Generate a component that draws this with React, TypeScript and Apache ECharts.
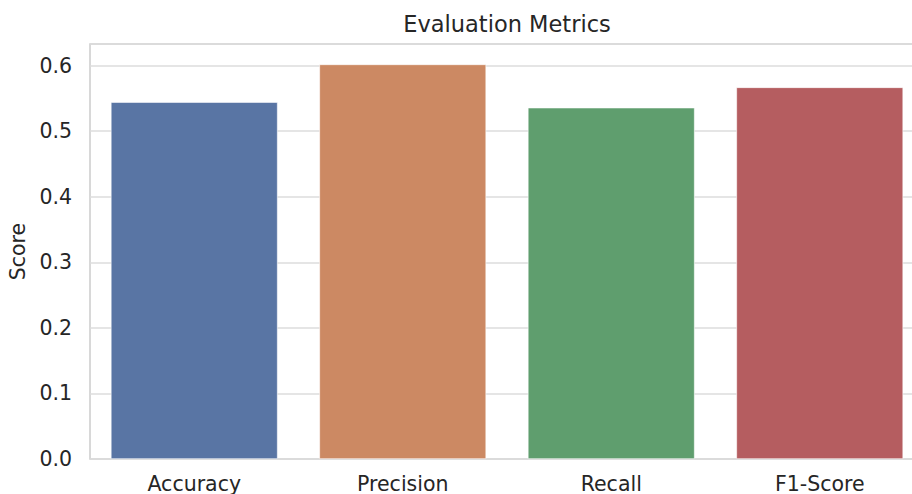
import React, { useEffect, useRef } from "react";
import * as echarts from "echarts";

const categories = ["Accuracy", "Precision", "Recall", "F1-Score"];
const scores = [0.5445, 0.602, 0.536, 0.567];
const barColors = ["#5975a4", "#cc8963", "#5f9e6e", "#b55d60"];
const yTicks = [0, 0.1, 0.2, 0.3, 0.4, 0.5, 0.6];

const FONT = "DejaVu Sans";
const TEXT = "#262626";

export default function App() {
  const ref = useRef<HTMLDivElement>(null);
  useEffect(() => {
    const chart = echarts.init(ref.current!, undefined, { renderer: "svg" });
    chart.setOption({
      animation: false,
      backgroundColor: "#ffffff",
      title: {
        text: "Evaluation Metrics",
        left: 502,
        textAlign: "center",
        top: 7,
        textStyle: { fontFamily: FONT, fontSize: 22.5, fontWeight: "normal", color: TEXT },
      },
      grid: {
        left: 90,
        right: 0,
        top: 44,
        bottom: 35,
        show: true,
        borderColor: "#cccccc",
        borderWidth: 1.5,
        backgroundColor: "transparent",
        outerBoundsMode: "none",
        containLabel: false,
      },
      xAxis: {
        type: "category",
        data: categories,
        axisLine: { show: false },
        axisTick: { show: false },
        axisLabel: { fontFamily: FONT, fontSize: 20.5, color: TEXT, margin: 14 },
        splitLine: { show: false },
      },
      yAxis: {
        type: "value",
        min: yTicks[0],
        max: 0.6331,
        interval: 0.1,
        name: "Score",
        nameLocation: "middle",
        nameGap: 59,
        nameTextStyle: { fontFamily: FONT, fontSize: 20.5, color: TEXT },
        axisLine: { show: false },
        axisTick: { show: false },
        axisLabel: {
          fontFamily: FONT,
          fontSize: 20.5,
          color: TEXT,
          margin: 18,
          showMaxLabel: false,
          formatter: (v: number) => v.toFixed(1),
        },
        splitLine: { show: true, lineStyle: { color: "#dcdcdc", width: 1.5 } },
      },
      series: [
        {
          type: "bar",
          barCategoryGap: "20%",
          data: scores.map((v, i) => ({
            value: v,
            itemStyle: { color: barColors[i], borderColor: "#ffffff", borderWidth: 0.6 },
          })),
        },
      ],
    });
    return () => chart.dispose();
  }, []);
  return (
    <div
      style={{
        position: "absolute",
        left: 0,
        top: 0,
        width: 912,
        height: 494,
        overflow: "hidden",
      }}
    >
      <div ref={ref} style={{ width: 924, height: 494 }} />
    </div>
  );
}
